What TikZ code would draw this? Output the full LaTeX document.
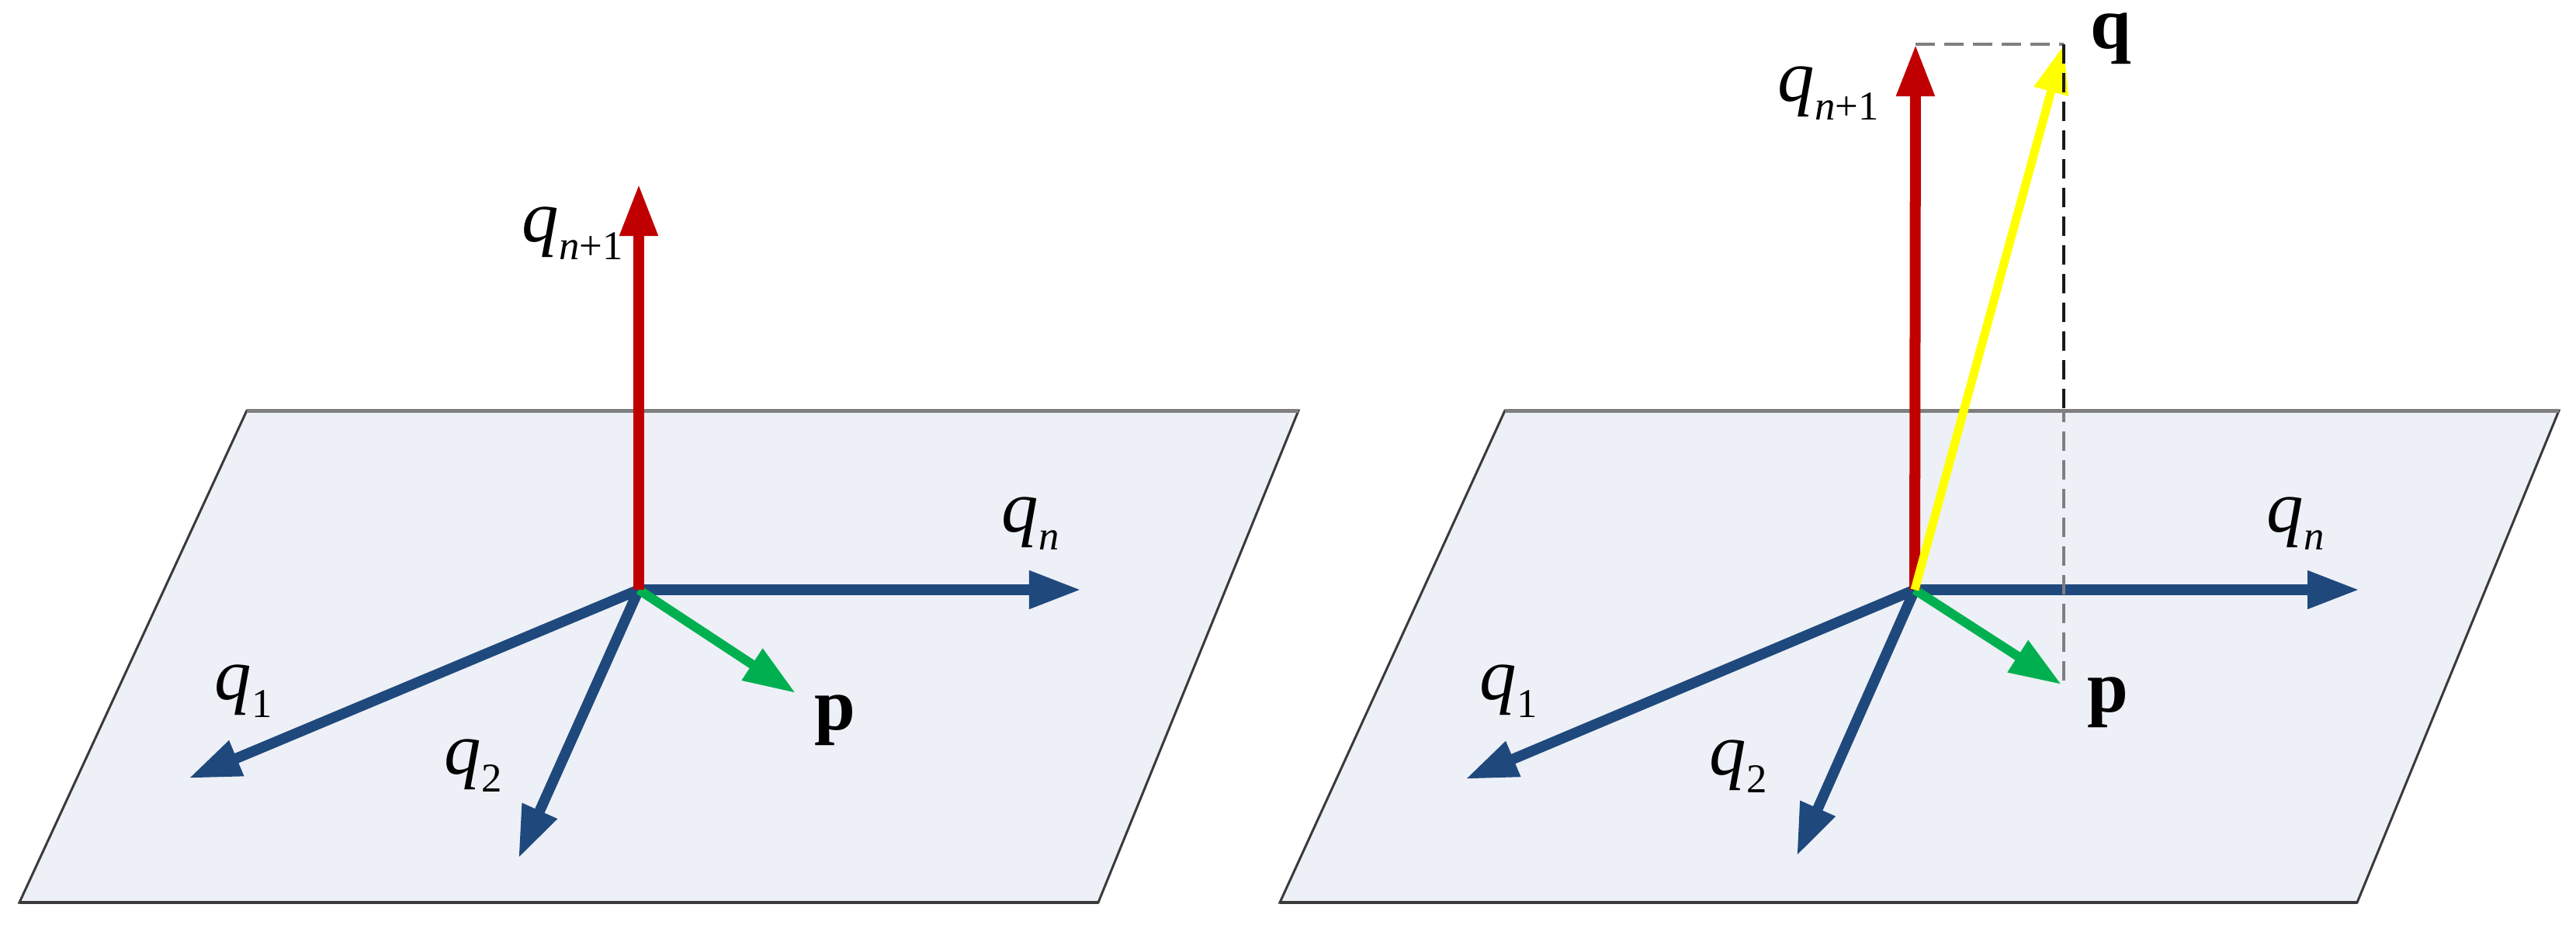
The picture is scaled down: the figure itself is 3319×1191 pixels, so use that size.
\documentclass[tikz,border=0pt]{standalone}
\usepackage{fontspec}
\setmainfont{Liberation Serif}
\usetikzlibrary{arrows.meta}
\definecolor{qblue}{HTML}{1F497D}
\definecolor{qred}{HTML}{C00000}
\definecolor{qgreen}{HTML}{00B050}
\definecolor{qyellow}{HTML}{FFFF00}
\definecolor{planefill}{HTML}{EDF0F6}
\definecolor{edgegray}{HTML}{7F7F7F}
\definecolor{edgedark}{HTML}{3A3A3A}
\newcommand{\bigqsize}{\fontsize{27}{27}\selectfont}
\newcommand{\subqsize}{\fontsize{15}{15}\selectfont}
\newcommand{\qsub}[1]{{\bigqsize\itshape q}\raisebox{-6.8pt}{\subqsize #1}}
\tikzset{
  vec/.style={line width=0.135cm, -{Triangle[length=0.67cm,width=0.46cm]}},
  bluevec/.style={vec, draw=qblue, fill=qblue},
  redvec/.style={vec, line width=0.14cm, draw=qred, fill=qred},
  greenvec/.style={vec, line width=0.12cm, draw=qgreen, fill=qgreen},
  yellowvec/.style={vec, line width=0.11cm, draw=qyellow, fill=qyellow, -{Triangle[length=0.62cm,width=0.43cm]}},
  plane/.style={fill=planefill, draw=edgedark, line width=0.03cm, line join=miter},
  planetop/.style={draw=edgegray, line width=0.05cm},
  planebottom/.style={draw=edgedark, line width=0.045cm},
  proj/.style={line width=0.045cm, dash pattern=on 0.25cm off 0.12cm},
  lbl/.style={inner sep=0pt, anchor=base west, text height=0.5em, text depth=0.3em},
}
\begin{document}
\begin{tikzpicture}[x=0.01cm, y=-0.01cm]
\useasboundingbox (0,0) rectangle (3319,1191);

% ---------- left panel ----------
\coordinate (L1) at (318,529);
\coordinate (L2) at (1673,529);
\coordinate (L3) at (1415,1163);
\coordinate (L4) at (25,1163);
\path[plane] (L1) -- (L2) -- (L3) -- (L4) -- cycle;
\draw[planetop] (L1) -- (L2);
\draw[planebottom] (L4) -- (L3);

\coordinate (O1) at (823,760);
\coordinate (A1qn) at (1393,760);
\coordinate (A1q1) at (243,1003);
\coordinate (A1q2) at (668,1106);
\coordinate (A1p) at (1025,893);
\coordinate (A1up) at (823,237);

\draw[bluevec] (O1) -- (A1qn);
\draw[bluevec] (O1) -- (A1q1);
\draw[bluevec] (O1) -- (A1q2);
\draw[greenvec] (O1) -- (A1p);
\draw[redvec] (O1) -- (A1up);

\node[lbl] (t1up) at (672,311) {\qsub{\itshape n\upshape +1}};
\node[lbl] (t1qn) at (1290,685) {\qsub{\itshape n}};
\node[lbl] (t1q1) at (276,901) {\qsub{1}};
\node[lbl] (t1q2) at (572,997) {\qsub{2}};
\node[lbl] (t1p) at (1049,940) {\bigqsize\bfseries p};

% ---------- right panel ----------
\coordinate (R1) at (1939,529);
\coordinate (R2) at (3297,529);
\coordinate (R3) at (3037,1163);
\coordinate (R4) at (1649,1163);
\path[plane] (R1) -- (R2) -- (R3) -- (R4) -- cycle;
\draw[planetop] (R1) -- (R2);
\draw[planebottom] (R4) -- (R3);

\coordinate (O2) at (2467,760);
\coordinate (A2qn) at (3040,760);
\coordinate (A2q1) at (1888,1004);
\coordinate (A2q2) at (2315,1103);
\coordinate (A2p) at (2656,882);
\coordinate (A2up) at (2468,57);
\coordinate (A2q) at (2659,58);
\coordinate (C2top) at (2659,57);
\coordinate (C2mid) at (2659,529);
\coordinate (C2bot) at (2659,885);

\draw[bluevec] (O2) -- (A2qn);
\draw[bluevec] (O2) -- (A2q1);
\draw[bluevec] (O2) -- (A2q2);
\draw[greenvec] (O2) -- (A2p);
\draw[redvec] (O2) -- (A2up);
\draw[yellowvec] (O2) -- (A2q);

\draw[proj, draw=edgegray] (A2up) -- (C2top);
\draw[proj, draw=black!90] (C2top) -- (C2mid);
\draw[proj, draw=edgegray, dash phase=0.1cm] (C2mid) -- (C2bot);

\node[lbl] (t2up) at (2290,131) {\qsub{\itshape n\upshape +1}};
\node[lbl] (t2qn) at (2920,685) {\qsub{\itshape n}};
\node[lbl] (t2q1) at (1906,901) {\qsub{1}};
\node[lbl] (t2q2) at (2202,998) {\qsub{2}};
\node[lbl] (t2p) at (2689,917) {\bigqsize\bfseries p};
\node[lbl] (t2q) at (2693,63) {\bigqsize\bfseries q};
\end{tikzpicture}
\end{document}
